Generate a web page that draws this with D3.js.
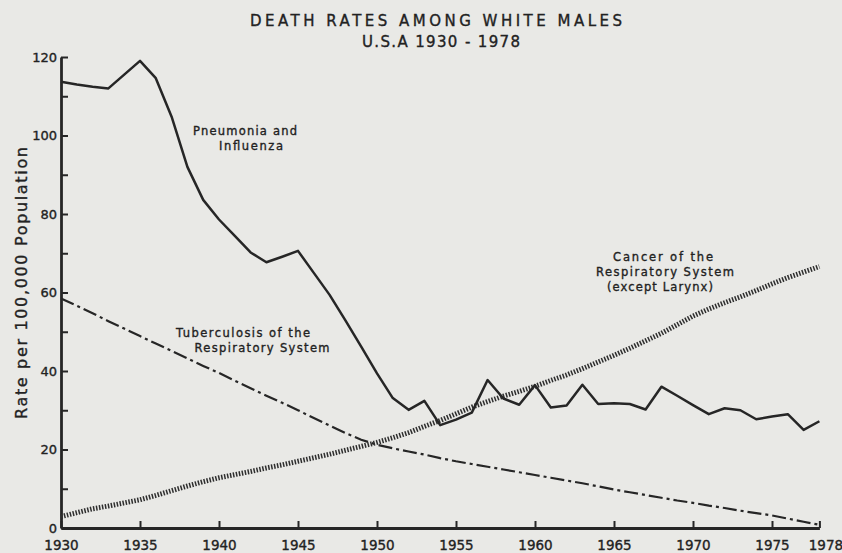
<!DOCTYPE html>
<html>
<head>
<meta charset="utf-8">
<script src="https://cdn.jsdelivr.net/npm/d3@7"></script>
<style>
  body { margin: 0; background: #e9e9e6; }
  svg { display: block; }
  text { font-family: "DejaVu Sans", sans-serif; fill: #222; stroke: #222; stroke-width: 0.35px; }
</style>
</head>
<body>
<svg width="842" height="553"></svg>
<script>
var years = [1930, 1931, 1932, 1933, 1934, 1935, 1936, 1937, 1938, 1939,
             1940, 1941, 1942, 1943, 1944, 1945, 1946, 1947, 1948, 1949,
             1950, 1951, 1952, 1953, 1954, 1955, 1956, 1957, 1958, 1959,
             1960, 1961, 1962, 1963, 1964, 1965, 1966, 1967, 1968, 1969,
             1970, 1971, 1972, 1973, 1974, 1975, 1976, 1977, 1978];

// Pneumonia and Influenza
var pneumonia = [113.7, 113.0, 112.4, 112.0, 115.5, 119.0, 114.6, 104.8, 92.0, 83.6,
                 78.6, 74.4, 70.2, 67.7, 69.1, 70.6, 65.0, 59.4, 52.9, 46.2,
                 39.4, 33.1, 30.1, 32.4, 26.2, 27.6, 29.4, 37.7, 33.0, 31.4,
                 36.4, 30.7, 31.2, 36.5, 31.6, 31.8, 31.6, 30.2, 36.0, 33.7,
                 31.3, 29.0, 30.5, 30.0, 27.7, 28.4, 29.0, 25.0, 27.2];

// Tuberculosis of the Respiratory System
var tuberculosis = [58.5, 56.6, 54.7, 52.7, 50.8, 48.9, 47.0, 45.1, 43.2, 41.3,
                    39.5, 37.5, 35.6, 33.7, 31.9, 30.0, 28.0, 26.1, 24.2, 22.5,
                    21.2, 20.3, 19.5, 18.7, 17.8, 17.0, 16.3, 15.6, 14.9, 14.2,
                    13.5, 12.8, 12.1, 11.4, 10.6, 9.8, 9.1, 8.4, 7.7, 7.0,
                    6.4, 5.7, 5.1, 4.4, 3.8, 3.2, 2.4, 1.6, 0.8];

// Cancer of the Respiratory System (except Larynx)
var cancer = [2.9, 3.9, 4.9, 5.6, 6.4, 7.2, 8.3, 9.5, 10.7, 11.8,
              12.8, 13.6, 14.4, 15.3, 16.1, 17.0, 17.9, 18.8, 19.8, 20.8,
              21.8, 23.0, 24.3, 25.9, 27.4, 29.1, 30.8, 32.2, 33.6, 34.8,
              36.1, 37.6, 39.0, 40.6, 42.3, 44.0, 45.8, 47.7, 49.6, 51.8,
              54.0, 55.8, 57.4, 58.9, 60.5, 62.2, 63.8, 65.2, 66.6];

var xTicks = [1930, 1935, 1940, 1945, 1950, 1955, 1960, 1965, 1970, 1975, 1978];
var yTicks = [0, 10, 20, 30, 40, 50, 60, 70, 80, 90, 100, 110, 120];

var svg = d3.select("svg"),
    width = +svg.attr("width"),
    height = +svg.attr("height");

var ink = "#262626";

var x = d3.scaleLinear().domain([1930, 1978]).range([61, 819.4]);
var y = d3.scaleLinear().domain([0, 120]).range([528, 57]);

// title
svg.append("text")
    .attr("x", 436).attr("y", 26)
    .attr("text-anchor", "middle")
    .attr("textLength", 372).attr("lengthAdjust", "spacing")
    .style("font-size", "15px")
    .text("DEATH RATES AMONG WHITE MALES");

svg.append("text")
    .attr("x", 441).attr("y", 47)
    .attr("text-anchor", "middle")
    .attr("textLength", 158).attr("lengthAdjust", "spacing")
    .style("font-size", "15px")
    .text("U.S.A 1930 - 1978");

// axes
var xAxis = svg.append("g")
    .attr("transform", "translate(0," + y(0) + ")")
    .call(d3.axisBottom(x)
      .tickValues(xTicks)
      .tickSize(-7)
      .tickSizeOuter(0)
      .tickFormat(d3.format("d")));

xAxis.selectAll("text")
    .attr("y", 22).attr("dy", null)
    .attr("dx", function(d) { return d === 1978 ? 6 : 0; })
    .style("font-size", "13.5px");

var yAxis = svg.append("g")
    .attr("transform", "translate(" + x(1930) + ",0)")
    .call(d3.axisLeft(y)
      .tickValues(yTicks)
      .tickSize(-7)
      .tickSizeOuter(0)
      .tickPadding(4)
      .tickFormat(function(d) { return d % 20 === 0 ? d : ""; }));

yAxis.selectAll("text").style("font-size", "13px");

svg.selectAll(".domain").attr("stroke", ink).attr("stroke-width", 2.8);
svg.selectAll(".tick line").attr("stroke", ink).attr("stroke-width", 2);
svg.selectAll(".tick text")
    .attr("fill", "#222")
    .attr("stroke", "#222")
    .attr("stroke-width", 0.35)
    .style("font-family", '"DejaVu Sans", sans-serif');

// y axis title
svg.append("text")
    .attr("transform", "translate(27,283) rotate(-90)")
    .attr("text-anchor", "middle")
    .attr("textLength", 272).attr("lengthAdjust", "spacing")
    .style("font-size", "16px")
    .text("Rate per 100,000 Population");

// series
var line = function(values) {
  return d3.line()
    .x(function(d, i) { return x(years[i]); })
    .y(function(d) { return y(d); })(values);
};

svg.append("path")
    .attr("d", line(tuberculosis))
    .attr("fill", "none")
    .attr("stroke", ink)
    .attr("stroke-width", 2.2)
    .attr("stroke-dasharray", "14,4,3,4");

svg.append("path")
    .attr("d", line(cancer))
    .attr("fill", "none")
    .attr("stroke", "#2e2e2e")
    .attr("stroke-width", 5)
    .attr("stroke-dasharray", "1.5,1.5");

svg.append("path")
    .attr("d", line(pneumonia))
    .attr("fill", "none")
    .attr("stroke", ink)
    .attr("stroke-width", 2.5)
    .attr("stroke-linejoin", "round");

// series labels
function label(lines, cx, y0, lengths) {
  lines.forEach(function(t, i) {
    svg.append("text")
        .attr("x", cx[i]).attr("y", y0 + i * 15)
        .attr("text-anchor", "middle")
        .attr("textLength", lengths[i]).attr("lengthAdjust", "spacing")
        .style("font-size", "11.5px")
        .text(t);
  });
}

label(["Pneumonia and", "Influenza"], [245, 251], 135, [104, 64]);
label(["Tuberculosis of the", "Respiratory System"], [243, 262], 337, [134, 135]);
label(["Cancer of the", "Respiratory System", "(except Larynx)"], [663, 665, 660], 261, [100, 138, 106]);
</script>
</body>
</html>
